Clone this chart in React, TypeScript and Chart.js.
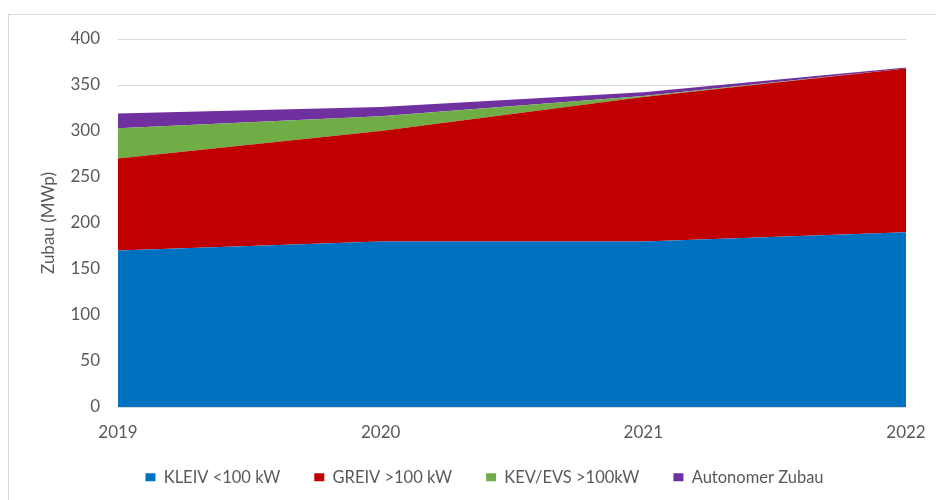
import React, { useEffect, useRef } from "react";
import { Chart, registerables } from "chart.js";

Chart.register(...registerables);

const years = ["2019", "2020", "2021", "2022"];
const kleiv = [170, 180, 180, 190];
const greiv = [100, 120, 157, 178];
const kevEvs = [33, 16, 1, 0];
const autonom = [16, 10, 4, 1];
const seriesNames = ["KLEIV <100 kW", "GREIV >100 kW", "KEV/EVS >100kW", "Autonomer Zubau"];
const yTitle = "Zubau (MWp)";

const FONT = "Lato, 'Open Sans', sans-serif";
const GREY = "#595959";

const legendShift = {
  id: "legendShift",
  beforeDraw(chart: any) {
    const l = chart.legend;
    if (!l) return;
    l.left = 63;
    l.right = 906;
    l.top = 435;
  },
};

export default function App() {
  const ref = useRef<HTMLCanvasElement | null>(null);
  useEffect(() => {
    if (!ref.current) return;
    const mk = (label: string, data: number[], color: string, fill: any) => ({
      label,
      data,
      backgroundColor: color,
      borderColor: color,
      borderWidth: 0,
      pointRadius: 0,
      pointHoverRadius: 0,
      tension: 0,
      fill,
    });
    const chart = new Chart(ref.current, {
      type: "line",
      data: {
        labels: years,
        datasets: [
          mk(seriesNames[0], kleiv, "#0070C0", "origin"),
          mk(seriesNames[1], greiv, "#C00000", "-1"),
          mk(seriesNames[2], kevEvs, "#70AD47", "-1"),
          mk(seriesNames[3], autonom, "#7030A0", "-1"),
        ],
      },
      options: {
        responsive: false,
        animation: false,
        devicePixelRatio: 1,
        layout: { padding: { left: 0, right: 30, top: 39, bottom: -3.5 } },
        plugins: {
          tooltip: { enabled: false },
          legend: {
            position: "bottom",
            labels: {
              boxWidth: 10,
              boxHeight: 8,
              padding: 34,
              color: GREY,
              font: { family: FONT, size: 16.5 },
            },
          },
        },
        scales: {
          x: {
            type: "category",
            offset: false,
            grid: { display: false, drawTicks: false },
            border: { display: false },
            ticks: {
              color: GREY,
              font: { family: FONT, size: 17 },
              padding: 15,
              maxRotation: 0,
              autoSkip: false,
            },
            afterFit: (s: any) => {
              s.height = 36;
              s.paddingLeft = 0;
              s.paddingRight = 0;
            },
          },
          y: {
            stacked: true,
            min: 0,
            max: 400,
            grid: { color: "#d9d9d9", lineWidth: 1, drawTicks: false },
            border: { display: false },
            ticks: {
              stepSize: 50,
              color: GREY,
              font: { family: FONT, size: 17 },
              padding: 18,
            },
            title: {
              display: true,
              text: yTitle,
              color: GREY,
              font: { family: FONT, size: 17 },
              padding: { top: 38, bottom: 0 },
            },
            afterFit: (s: any) => {
              s.width = 118;
            },
          },
        },
      },
      plugins: [legendShift],
    } as any);
    return () => chart.destroy();
  }, []);
  return (
    <div
      style={{
        position: "fixed",
        left: 0,
        top: 0,
        width: 936,
        height: 500,
        overflow: "hidden",
        background: "#fff",
      }}
    >
      <div
        style={{
          position: "absolute",
          left: 8,
          top: 14,
          width: 1000,
          height: 600,
          border: "1px solid #d9d9d9",
        }}
      />
      <canvas
        ref={ref}
        width={936}
        height={500}
        style={{ position: "absolute", left: 0, top: 0 }}
      />
    </div>
  );
}
